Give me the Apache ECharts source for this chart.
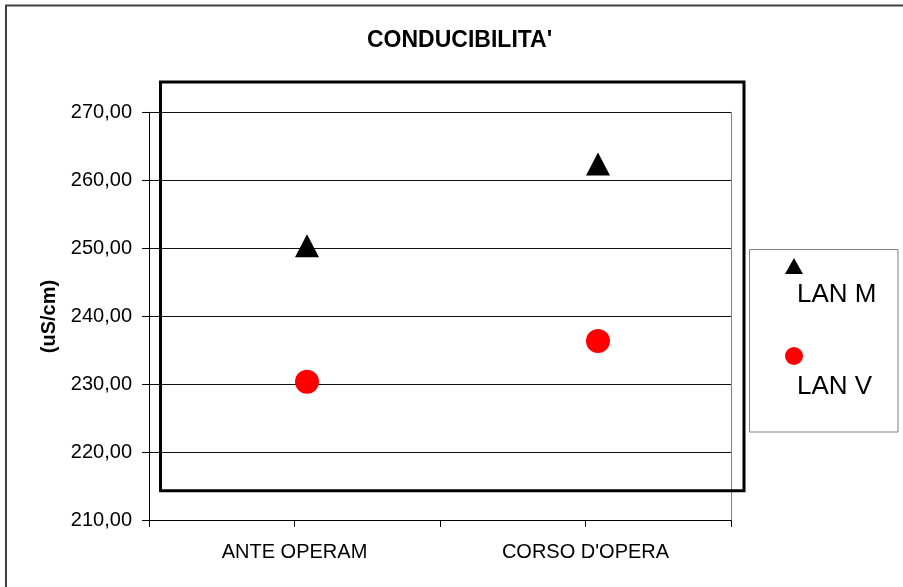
<!DOCTYPE html>
<html>
<head>
<meta charset="utf-8">
<script src="https://cdn.jsdelivr.net/npm/echarts@6/dist/echarts.min.js"></script>
<style>
  html, body { margin: 0; padding: 0; background: #fff; overflow: hidden; }
  #chart { width: 903px; height: 587px; }
</style>
</head>
<body>
<div id="chart"></div>
<script>
// Conductivity readings per monitoring phase
const categories = ['ANTE OPERAM', "CORSO D'OPERA"];
const lanM = [250.4, 262.4];
const lanV = [230.4, 236.4];
const seriesNames = ['LAN M', 'LAN V'];
const yMin = 210;
const yMax = 270;
const yStep = 10;

const FONT = "'Liberation Sans', Arial, sans-serif";
const chart = echarts.init(document.getElementById('chart'), null, { renderer: 'canvas' });

const fmt = v => v.toFixed(2).replace('.', ',');

chart.setOption({
  backgroundColor: '#ffffff',
  animation: false,
  title: {
    text: "CONDUCIBILITA'",
    left: 367,
    top: 29,
    padding: 0,
    textStyle: { fontFamily: FONT, fontSize: 23, fontWeight: 'bold', color: '#000' }
  },
  grid: { left: 149, top: 112.3, width: 582, height: 408.4, containLabel: false },
  legend: [
    {
      data: [seriesNames[0]], icon: 'triangle', itemWidth: 18, itemHeight: 16,
      left: 785, top: 258, padding: 0, selectedMode: false, formatter: () => '',
      itemStyle: { opacity: 1 }
    },
    {
      data: [seriesNames[1]], icon: 'circle', itemWidth: 18, itemHeight: 18,
      left: 785, top: 347, padding: 0, selectedMode: false, formatter: () => '',
      itemStyle: { opacity: 1 }
    }
  ],
  xAxis: [
    {
      type: 'category',
      data: categories,
      position: 'bottom',
      boundaryGap: true,
      axisLine: { show: true, lineStyle: { color: '#000', width: 1 } },
      axisTick: { show: true, length: 6, lineStyle: { color: '#000' } },
      axisLabel: { fontFamily: FONT, fontSize: 20, color: '#000', margin: 22 },
      splitLine: { show: false }
    },
    {
      // half-category tick marks
      type: 'category',
      data: ['', '', '', ''],
      position: 'bottom',
      boundaryGap: true,
      axisLine: { show: false },
      axisTick: { show: true, length: 6, lineStyle: { color: '#000' } },
      axisLabel: { show: false },
      splitLine: { show: false }
    }
  ],
  yAxis: [
    {
      type: 'value',
      min: yMin, max: yMax, interval: yStep,
      name: '(uS/cm)',
      nameLocation: 'middle',
      nameGap: 90,
      nameTextStyle: { fontFamily: FONT, fontSize: 20, fontWeight: 'bold', color: '#000' },
      axisLine: { show: true, lineStyle: { color: '#000', width: 1 } },
      axisTick: { show: true, length: 7, lineStyle: { color: '#000' } },
      axisLabel: { fontFamily: FONT, fontSize: 20, color: '#000', margin: 17, formatter: fmt },
      splitLine: { show: true, lineStyle: { color: '#111', width: 1 } }
    },
    {
      type: 'value',
      position: 'right',
      min: yMin, max: yMax, interval: yStep,
      axisLine: { show: true, lineStyle: { color: '#808080', width: 1 } },
      axisTick: { show: false },
      axisLabel: { show: false },
      splitLine: { show: false }
    }
  ],
  series: [
    {
      name: seriesNames[0],
      type: 'scatter',
      xAxisIndex: 0, yAxisIndex: 0,
      data: lanM,
      symbol: 'triangle',
      symbolSize: [24, 23],
      symbolOffset: [12.5, 0],
      itemStyle: { color: '#000', opacity: 1 },
      z: 5
    },
    {
      name: seriesNames[1],
      type: 'scatter',
      xAxisIndex: 0, yAxisIndex: 0,
      data: lanV,
      symbol: 'circle',
      symbolSize: 24,
      symbolOffset: [12.5, 0],
      itemStyle: { color: '#ff0000', opacity: 1 },
      z: 5
    }
  ],
  graphic: [
    {
      // outer chart frame (top and left edges fall inside the canvas)
      type: 'polyline', silent: true, z: 0,
      shape: { points: [[6, 600], [6, 5.5], [910, 5.5]] },
      style: { fill: null, stroke: '#404040', lineWidth: 2 }
    },
    {
      // heavy plot frame
      type: 'rect', silent: true, z: 3,
      shape: { x: 160.5, y: 82, width: 583.5, height: 408.7 },
      style: { fill: 'none', stroke: '#000', lineWidth: 3 }
    },
    {
      // legend box
      type: 'rect', silent: true, z: 3,
      shape: { x: 749.5, y: 249.5, width: 148.5, height: 182.5 },
      style: { fill: '#fff', stroke: '#808080', lineWidth: 1 }
    },
    {
      type: 'text', silent: true, z: 4,
      style: { x: 797, y: 295, text: seriesNames[0], fill: '#000', font: '26px ' + FONT, textVerticalAlign: 'middle' }
    },
    {
      type: 'text', silent: true, z: 4,
      style: { x: 797, y: 386.5, text: seriesNames[1], fill: '#000', font: '26px ' + FONT, textVerticalAlign: 'middle' }
    }
  ]
});
</script>
</body>
</html>
